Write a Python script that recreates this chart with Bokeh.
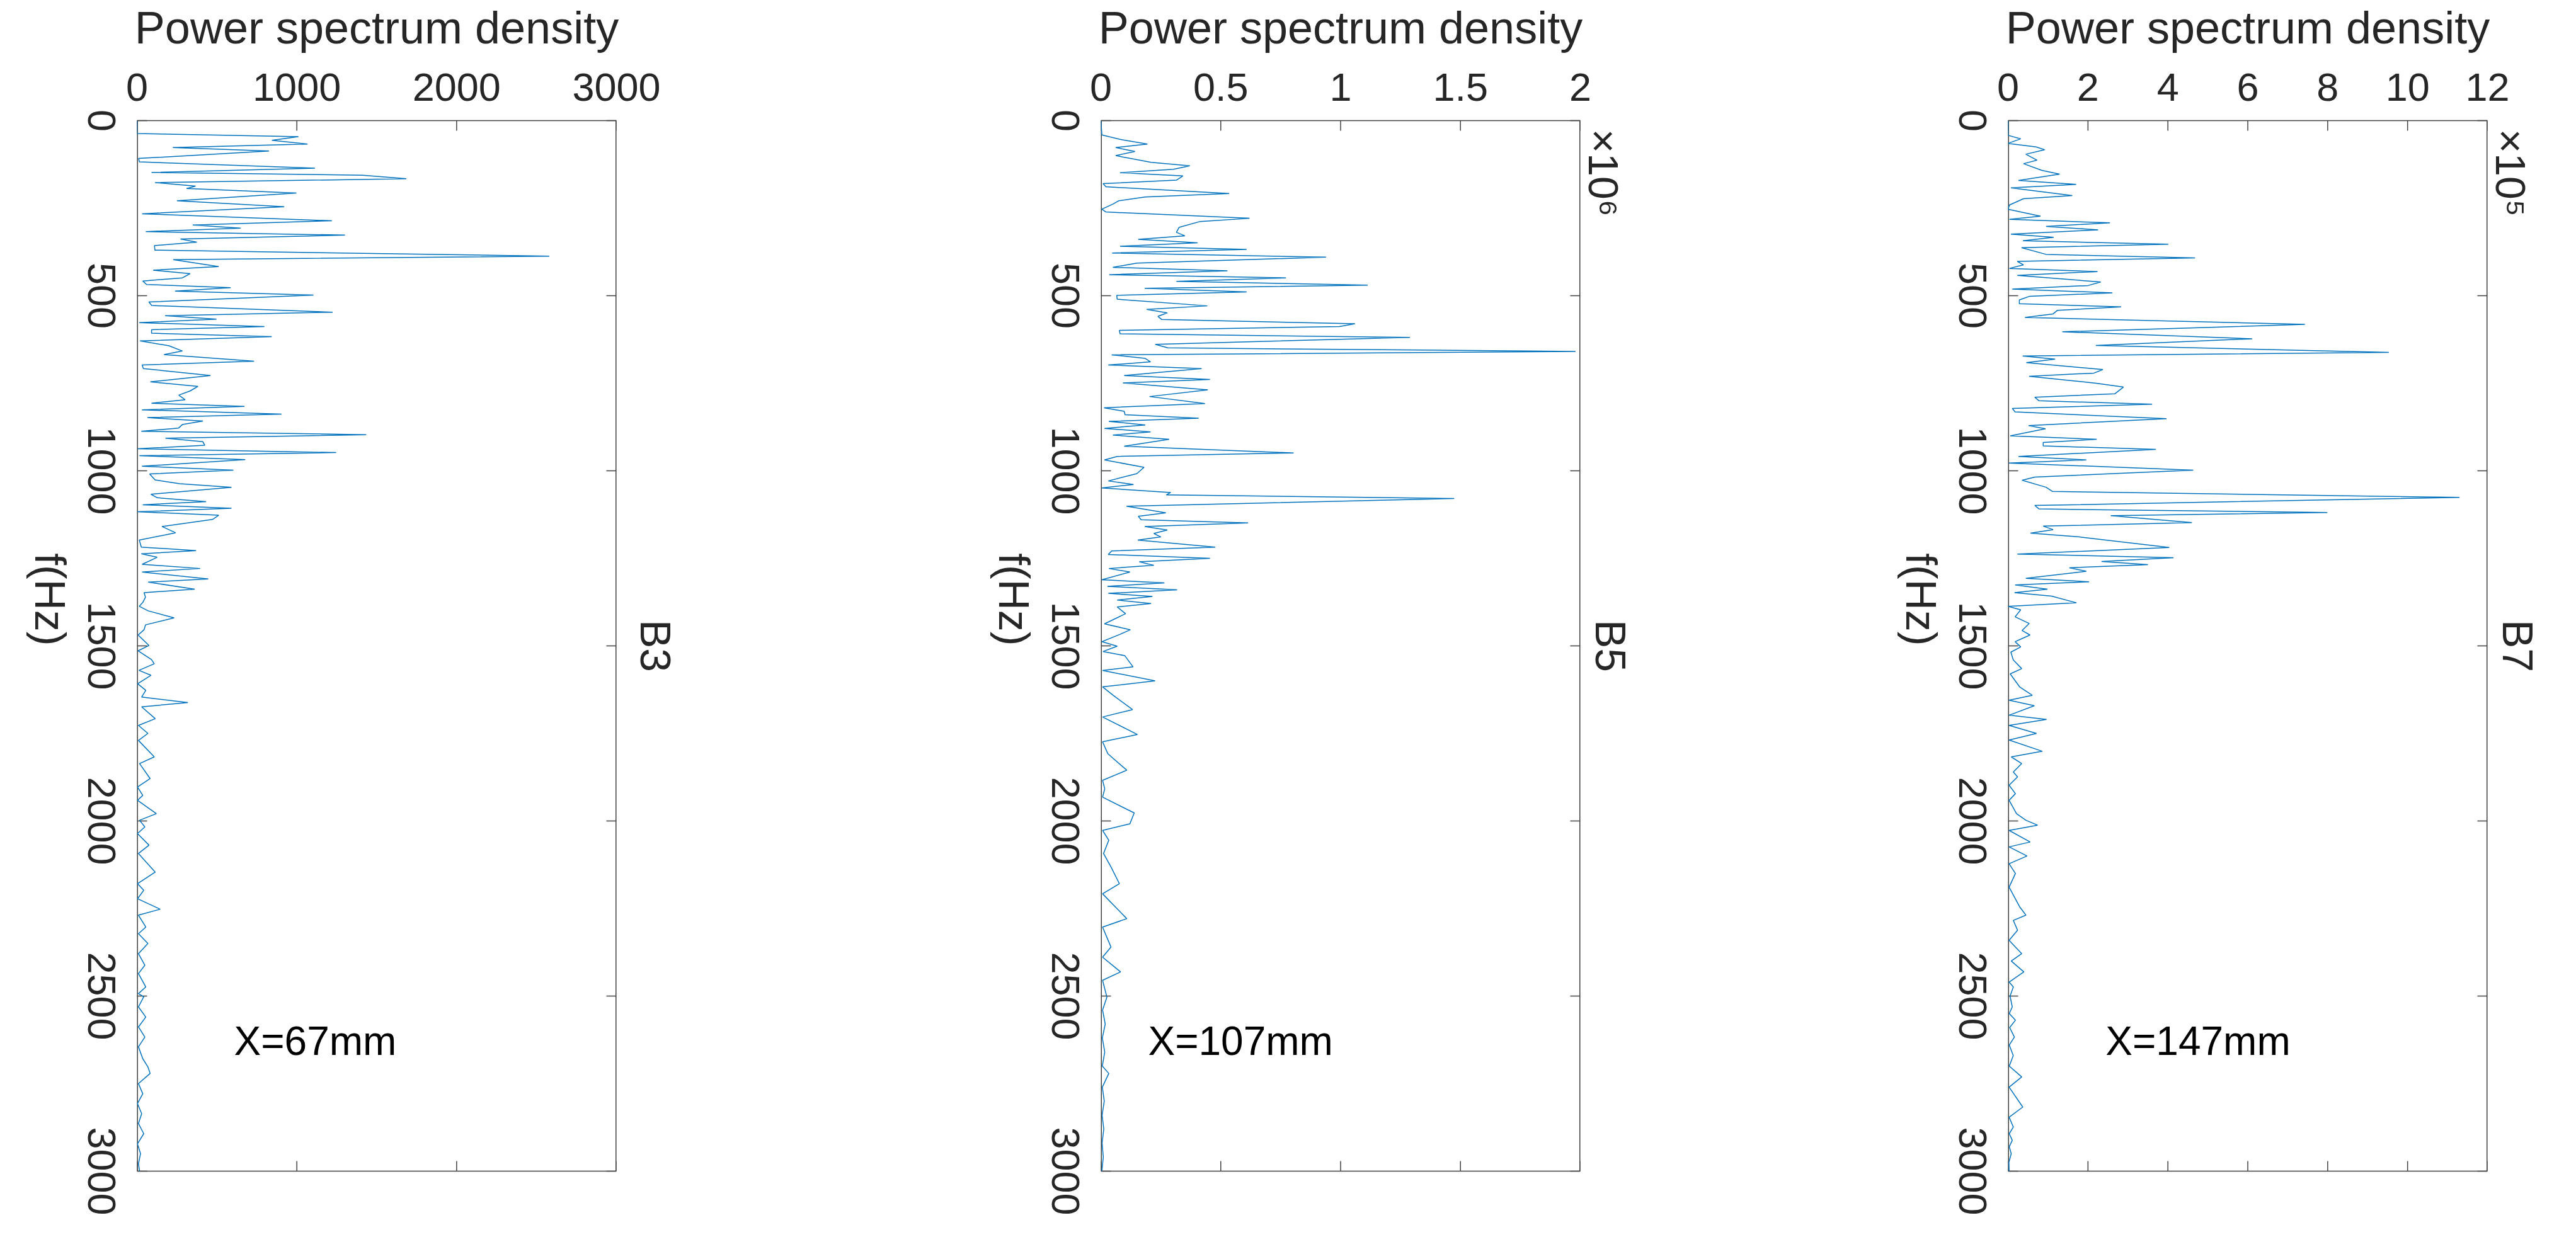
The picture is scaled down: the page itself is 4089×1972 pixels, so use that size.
import math
from bokeh.plotting import figure
from bokeh.models import Range1d, LinearAxis, FixedTicker
from bokeh.layouts import row
from bokeh.embed import file_html
from bokeh.resources import INLINE

# ---------------- data ----------------
freq_ticks = [0, 500, 1000, 1500, 2000, 2500, 3000]

# B3, X=67mm  (PSD, raw units)
b3_f = [0, 37, 46, 56, 67, 77, 87, 108, 118, 136, 148, 156, 166, 177, 187, 194, 207, 229, 246, 266,
        286, 298, 307, 317, 327, 338, 347, 357, 370, 387, 397, 417, 427, 437, 449, 458, 468, 477, 487, 498,
        518, 528, 547, 557, 567, 577, 588, 597, 607, 617, 629, 643, 658, 668, 687, 698, 708, 728, 746, 759,
        772, 784, 797, 807, 816, 826, 838, 848, 858, 868, 878, 887, 897, 907, 917, 927, 937, 948, 957, 968,
        987, 998, 1009, 1026, 1037, 1047, 1067, 1077, 1088, 1097, 1107, 1117, 1127, 1139, 1159, 1177, 1198, 1218, 1228, 1237,
        1247, 1267, 1279, 1289, 1309, 1318, 1338, 1348, 1361, 1376, 1387, 1400, 1420, 1440, 1454, 1469, 1499, 1514, 1539, 1551,
        1570, 1584, 1608, 1627, 1646, 1662, 1674, 1708, 1727, 1750, 1770, 1817, 1836, 1879, 1903, 1927, 1941, 1979, 1998, 2017,
        2036, 2069, 2093, 2146, 2179, 2198, 2222, 2252, 2269, 2303, 2322, 2350, 2379, 2412, 2436, 2474, 2493, 2502, 2531, 2560,
        2588, 2617, 2645, 2679, 2702, 2721, 2750, 2779, 2807, 2836, 2864, 2893, 2922, 2950, 2979, 3000]
b3_psd = [0, 0, 1010, 844, 1067, 224, 826, 10, 15, 1113, 91, 1412, 1685, 113, 366, 310, 997, 250, 921, 32,
          1219, 349, 648, 55, 1301, 272, 374, 109, 112, 2580, 227, 511, 101, 332, 284, 36, 60, 586, 238, 1104,
          74, 92, 1224, 176, 497, 14, 797, 91, 91, 843, 19, 200, 284, 169, 732, 32, 40, 460, 84, 381,
          332, 261, 301, 91, 672, 31, 904, 65, 412, 284, 260, 27, 1434, 178, 412, 424, 5, 1246, 15, 677,
          31, 603, 79, 113, 267, 591, 87, 127, 432, 36, 591, 2, 511, 472, 156, 241, 14, 27, 369, 27,
          126, 32, 395, 32, 446, 70, 361, 44, 53, 36, 14, 70, 232, 53, 44, 7, 75, 7, 90, 108,
          12, 88, 4, 55, 29, 318, 29, 114, 9, 68, 9, 108, 16, 82, 3, 36, 3, 121, 16, 49,
          3, 75, 9, 114, 3, 42, 3, 145, 9, 55, 9, 68, 9, 49, 9, 55, 9, 42, 9, 55,
          9, 49, 9, 36, 68, 82, 9, 36, 3, 29, 9, 42, 3, 22, 9, 16]

# B5, X=107mm  (PSD, x10^6)
b5_f = [0, 41, 55, 67, 77, 88, 100, 119, 129, 139, 149, 158, 170, 180, 189, 208, 218, 229, 238, 253,
        261, 279, 288, 305, 319, 329, 339, 349, 359, 368, 378, 390, 407, 419, 429, 440, 449, 459, 470, 479,
        489, 499, 510, 529, 539, 549, 559, 568, 580, 588, 599, 609, 619, 639, 649, 659, 669, 679, 689, 698,
        708, 728, 739, 749, 769, 788, 808, 820, 830, 840, 850, 859, 869, 879, 889, 898, 910, 930, 949, 959,
        969, 990, 1008, 1029, 1039, 1049, 1062, 1069, 1079, 1101, 1120, 1130, 1140, 1149, 1159, 1169, 1179, 1189, 1198, 1218,
        1229, 1239, 1250, 1260, 1270, 1279, 1289, 1311, 1320, 1330, 1340, 1350, 1359, 1369, 1379, 1389, 1408, 1437, 1454, 1467,
        1488, 1501, 1516, 1528, 1560, 1570, 1600, 1617, 1641, 1682, 1703, 1753, 1774, 1808, 1855, 1884, 1908, 1932, 1977, 2008,
        2027, 2055, 2093, 2131, 2179, 2208, 2279, 2303, 2360, 2389, 2431, 2455, 2503, 2540, 2580, 2620, 2660, 2700, 2721, 2760,
        2800, 2840, 2880, 2920, 2960, 3000]
b5_psd = [0, 0.004, 0.09, 0.194, 0.062, 0.142, 0.062, 0.209, 0.371, 0.303, 0.080, 0.342, 0.315, 0.009, 0.021, 0.535, 0.185, 0.074, 0.051, 0.004,
          0.021, 0.620, 0.414, 0.326, 0.315, 0.350, 0.156, 0.403, 0.080, 0.608, 0.047, 0.939, 0.150, 0.050, 0.528, 0.035, 0.772, 0.315, 1.113, 0.183,
          0.608, 0.066, 0.068, 0.444, 0.191, 0.277, 0.238, 0.254, 1.060, 0.995, 0.077, 0.080, 1.289, 0.227, 0.279, 1.98, 0.045, 0.185, 0.207, 0.031,
          0.420, 0.097, 0.455, 0.092, 0.446, 0.203, 0.434, 0.013, 0.097, 0.101, 0.408, 0.033, 0.185, 0.015, 0.207, 0.050, 0.285, 0.097, 0.804, 0.068,
          0.015, 0.180, 0.150, 0.031, 0.136, 0.004, 0.291, 0.273, 1.474, 0.107, 0.271, 0.156, 0.168, 0.614, 0.183, 0.277, 0.221, 0.250, 0.154, 0.477,
          0.045, 0.031, 0.455, 0.160, 0.221, 0.033, 0.121, 0.004, 0.265, 0.027, 0.318, 0.031, 0.215, 0.068, 0.209, 0.068, 0.103, 0.015, 0.123, 0.080,
          0.004, 0.068, 0.009, 0.100, 0.134, 0.007, 0.226, 0.007, 0.051, 0.132, 0.007, 0.152, 0.007, 0.029, 0.108, 0.007, 0.016, 0.007, 0.139, 0.121,
          0.007, 0.033, 0.011, 0.042, 0.077, 0.007, 0.108, 0.007, 0.042, 0.007, 0.082, 0.007, 0.025, 0.007, 0.018, 0.006, 0.016, 0.006, 0.033, 0.006,
          0.014, 0.005, 0.012, 0.005, 0.010, 0.004]

# B7, X=147mm  (PSD, x10^5)
b7_f = [0, 42, 52, 65, 75, 83, 96, 113, 123, 142, 153, 171, 182, 192, 214, 223, 241, 253, 273, 282,
        292, 302, 312, 324, 333, 343, 353, 363, 382, 392, 402, 412, 422, 431, 442, 461, 471, 481, 492, 502,
        512, 523, 532, 542, 552, 562, 582, 603, 623, 642, 662, 672, 681, 691, 711, 721, 730, 750, 761, 780,
        790, 800, 810, 822, 832, 851, 871, 880, 900, 910, 919, 929, 939, 959, 969, 978, 998, 1018, 1027, 1047,
        1059, 1076, 1099, 1109, 1119, 1128, 1148, 1158, 1168, 1178, 1189, 1219, 1238, 1248, 1259, 1268, 1277, 1287, 1307, 1317,
        1326, 1338, 1348, 1358, 1377, 1387, 1397, 1417, 1436, 1456, 1469, 1488, 1503, 1518, 1540, 1565, 1580, 1617, 1641, 1655,
        1671, 1698, 1710, 1727, 1750, 1769, 1801, 1817, 1836, 1860, 1874, 1898, 1922, 1941, 1979, 1998, 2012, 2027, 2060, 2074,
        2100, 2122, 2150, 2189, 2245, 2269, 2284, 2312, 2341, 2379, 2400, 2431, 2460, 2474, 2500, 2531, 2550, 2569, 2590, 2617,
        2640, 2670, 2700, 2731, 2760, 2817, 2846, 2874, 2893, 2912, 2930, 2950, 2975, 3000]
b7_psd = [0, 0, 0.317, 0, 0.70, 0.915, 0.444, 0.725, 0.387, 0.845, 1.289, 0.261, 1.704, 0.070, 1.606, 0.387, 0.035, 0.0, 0.810, 0.035,
          2.549, 0.951, 2.254, 0.070, 1.141, 0.373, 4.01, 0.338, 0.951, 4.68, 0.232, 0.387, 0.035, 2.24, 0.232, 2.32, 2.00, 0.106, 2.61, 0.528,
          0.282, 0.282, 2.83, 1.232, 1.127, 0.423, 7.43, 1.359, 6.11, 2.197, 9.53, 0.366, 1.176, 0.458, 2.373, 2.148, 0.528, 2.204, 2.887, 2.676,
          0.669, 0.775, 3.606, 0.106, 0.176, 3.965, 0.514, 0.937, 0.056, 2.218, 0.880, 0.880, 3.697, 0.261, 1.958, 0.021, 4.634, 0.669, 0.352, 0.951,
          1.113, 11.3, 0.669, 0.775, 7.99, 2.57, 4.60, 0.880, 1.127, 0.563, 1.796, 4.035, 0.232, 4.14, 2.338, 3.50, 1.535, 1.958, 0.444, 2.028,
          0.176, 0.986, 0.162, 1.09, 1.711, 0.0, 0.317, 0.176, 0.528, 0.352, 0.549, 0.176, 0.317, 0.070, 0.13, 0.342, 0.053, 0.289, 0.605, 0.026,
          0.658, 0.026, 0.963, 0.026, 0.711, 0.026, 0.858, 0.079, 0.342, 0.132, 0.237, 0.026, 0.184, 0.026, 0.211, 0.447, 0.737, 0.026, 0.553, 0.026,
          0.474, 0.026, 0.184, 0.026, 0.289, 0.447, 0.132, 0.237, 0.026, 0.342, 0.079, 0.395, 0.026, 0.132, 0.05, 0.105, 0.03, 0.184, 0.04, 0.158,
          0.03, 0.13, 0.03, 0.342, 0.026, 0.368, 0.026, 0.132, 0.03, 0.105, 0.03, 0.079, 0.02, 0.026]

b3_xticks = [0, 1000, 2000, 3000]
b5_xticks = [0, 0.5, 1, 1.5, 2]
b7_xticks = [0, 2, 4, 6, 8, 10, 12]

# ---------------- styling / geometry ----------------
FONT = "Liberation Sans"
TXT = "#262626"
AXC = "#404040"
LINE = "#0072BD"
FW = 761            # width of the drawn axes box (px)
BOX_H = 1668        # height of the drawn axes box (px)
FMAX = 3000
EXT_PX = 80         # frame extends this far above and below the box
HZ_PER_PX = FMAX / BOX_H
EXT_HZ = EXT_PX * HZ_PER_PX
FH = BOX_H + 2 * EXT_PX
TICK_PX = 16
TICK_FONT_PX = 63


def base_text(ax):
    ax.major_label_text_font = FONT
    ax.major_label_text_color = TXT
    ax.axis_label_text_font = FONT
    ax.axis_label_text_color = TXT
    ax.axis_label_text_font_style = "normal"
    ax.minor_tick_in = 0
    ax.minor_tick_out = 0
    ax.major_tick_in = 0
    ax.major_tick_out = 0
    ax.major_tick_line_color = None
    ax.axis_line_color = None


def make_panel(f, v, xmax, xticks, name, pos_label, pos_x, exponent, left, right):
    p = figure(frame_width=FW, frame_height=FH,
               min_border_left=left, min_border_right=right,
               min_border_top=106, min_border_bottom=20,
               x_range=Range1d(0, xmax), y_range=Range1d(FMAX + EXT_HZ, -EXT_HZ),
               x_axis_location="above", y_axis_location="left",
               output_backend="svg", toolbar_location=None, tools="")
    p.xgrid.visible = False
    p.ygrid.visible = False
    p.outline_line_color = None
    p.background_fill_color = "white"
    p.border_fill_color = "white"

    # top axis: tick labels + "Power spectrum density"
    top = p.xaxis[0]
    base_text(top)
    top.ticker = FixedTicker(ticks=xticks)
    top.major_label_overrides = {t: ("%g" % t) for t in xticks}
    top.major_label_text_font_size = "%dpx" % TICK_FONT_PX
    top.major_label_standoff = 32 - EXT_PX
    top.axis_label = "Power spectrum density"
    top.axis_label_text_font_size = "72px"
    top.axis_label_standoff = 30

    # left axis: clockwise rotated frequency labels, centred on their ticks
    lft = p.yaxis[0]
    base_text(lft)
    half = [len(str(t)) * 0.556 * TICK_FONT_PX / 2 * HZ_PER_PX for t in freq_ticks]
    anchors = [round(t + h, 2) for t, h in zip(freq_ticks, half)]
    lft.ticker = FixedTicker(ticks=anchors)
    lft.major_label_overrides = {a: str(t) for a, t in zip(anchors, freq_ticks)}
    lft.major_label_text_font_size = "%dpx" % TICK_FONT_PX
    lft.major_label_orientation = -math.pi / 2
    lft.major_label_standoff = 56
    lft.axis_label = "f(Hz)"
    lft.axis_label_text_font_size = "68px"
    lft.axis_label_standoff = 36
    try:
        lft.axis_label_orientation = -math.pi / 2
    except Exception:
        pass

    # right axis: exponent note and panel name
    rgt = LinearAxis(ticker=FixedTicker(ticks=[0] if exponent else []))
    base_text(rgt)
    rgt.major_label_text_font_size = "66px"
    rgt.major_label_orientation = -math.pi / 2
    rgt.major_label_standoff = 36
    if exponent:
        rgt.major_label_overrides = {0: exponent}
    rgt.axis_label = name
    rgt.axis_label_text_font_size = "68px"
    rgt.axis_label_standoff = 24 if not exponent else -103
    p.add_layout(rgt, "right")

    # axes box (vertical edges lie on the frame edge, half of the stroke is clipped)
    p.segment(x0=[0, 0], y0=[0, FMAX], x1=[xmax, xmax], y1=[0, FMAX],
              line_color=AXC, line_width=1.5)
    p.segment(x0=[0, xmax], y0=[0, 0], x1=[0, xmax], y1=[FMAX, FMAX],
              line_color=AXC, line_width=3)

    # inward tick marks on all four edges
    dx = TICK_PX / FW * xmax
    dy = TICK_PX * HZ_PER_PX
    n = len(freq_ticks)
    m = len(xticks)
    p.segment(x0=[0] * n, y0=freq_ticks, x1=[dx] * n, y1=freq_ticks,
              line_color=AXC, line_width=1.5)
    p.segment(x0=[xmax - dx] * n, y0=freq_ticks, x1=[xmax] * n, y1=freq_ticks,
              line_color=AXC, line_width=1.5)
    p.segment(x0=xticks, y0=[FMAX] * m, x1=xticks, y1=[FMAX - dy] * m,
              line_color=AXC, line_width=1.5)
    p.segment(x0=xticks, y0=[0] * m, x1=xticks, y1=[dy] * m,
              line_color=AXC, line_width=1.5)

    # the spectrum, frequency running downwards
    p.line(v, f, line_color=LINE, line_width=1.5)

    p.text(x=[pos_x], y=[2628], text=[pos_label], text_font={"value": FONT},
           text_font_size="64px", text_color="black",
           text_align="left", text_baseline="alphabetic")
    return p


p1 = make_panel(b3_f, b3_psd, 3000, b3_xticks, "B3", "X=67mm", 607, None, 213, 200)
p2 = make_panel(b5_f, b5_psd, 2, b5_xticks, "B5", "X=107mm", 0.197, "\u2009\u00d710\u2076", 569, 200)
p3 = make_panel(b7_f, b7_psd, 12, b7_xticks, "B7", "X=147mm", 2.44, "\u2009\u00d710\u2075", 479, 120)

layout = row(p1, p2, p3)
open("out.html", "w").write(file_html(layout, INLINE))
